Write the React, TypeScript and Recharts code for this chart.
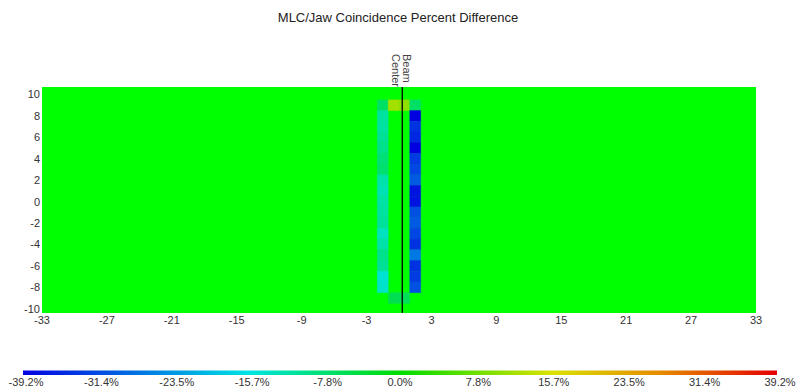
import { ComposedChart, XAxis, YAxis, ReferenceArea, ReferenceLine, Scatter } from "recharts"

// axis ticks
const xTicks = [-33, -27, -21, -15, -9, -3, 3, 9, 15, 21, 27, 33]
const yTicks = [-10, -8, -6, -4, -2, 0, 2, 4, 6, 8, 10]

// heat map rows (centre of each 1 cm row) and columns (left edge of each 1 cm column)
const rowY = [9, 8, 7, 6, 5, 4, 3, 2, 1, 0, -1, -2, -3, -4, -5, -6, -7, -8, -9]
const columnLeft = [-2, -1, 0, 1]

// percent difference per column, top row first (null = no value)
const colA = [-6.9, -11.0, -11.0, -10.3, -9.6, -8.3, -7.6, -11.7, -12.4, -11.4, -11.0, -10.7, -13.1, -11.7, -9.6, -10.3, -14.5, -13.8, null]
const colB = [11.7, null, null, null, null, null, null, null, null, null, null, null, null, null, null, null, null, null, -5.5]
const colC = [10.2, null, null, null, null, null, null, null, null, null, null, null, null, null, null, null, null, null, -6.0]
const colD = [-6.9, -39.2, -34.0, -35.1, -39.2, -33.0, -32.0, -29.9, -37.1, -37.1, -31.0, -29.9, -32.0, -34.0, -26.8, -34.0, -33.0, -31.0, null]
const columns = [colA, colB, colC, colD]

const beamCenter = 0.3
const legendMax = 39.2
const legendLabels = ["-39.2%", "-31.4%", "-23.5%", "-15.7%", "-7.8%", "0.0%", "7.8%", "15.7%", "23.5%", "31.4%", "39.2%"]

const FONT = "'Liberation Sans', Arial, sans-serif"

const colorStops: [number, number[]][] = [
  [-39.2, [0, 0, 225]],
  [-15.7, [0, 228, 228]],
  [0, [0, 220, 0]],
  [15.7, [218, 226, 0]],
  [27, [230, 140, 0]],
  [39.2, [228, 0, 0]],
]

function colorFor(v: number) {
  if (v <= colorStops[0][0]) return `rgb(${colorStops[0][1].join(",")})`
  for (let i = 1; i < colorStops.length; i++) {
    const [v1, c1] = colorStops[i]
    const [v0, c0] = colorStops[i - 1]
    if (v <= v1) {
      const t = (v - v0) / (v1 - v0)
      const c = c0.map((a, k) => Math.round(a + (c1[k] - a) * t))
      return `rgb(${c.join(",")})`
    }
  }
  return `rgb(${colorStops[colorStops.length - 1][1].join(",")})`
}

const renderBeamLabel = (props: any) => {
  const { x, y } = props.viewBox
  return (
    <g fontFamily={FONT} fontSize={11} fill="#444">
      <text transform={`translate(${x + 1},${y - 33}) rotate(90)`}>Beam</text>
      <text transform={`translate(${x - 10},${y - 33}) rotate(90)`}>Center</text>
    </g>
  )
}

export default function App() {
  const cells: any[] = []
  const points: { x: number; y: number; v: number }[] = []
  columns.forEach((col, ci) => {
    col.forEach((v, ri) => {
      if (v === null) return
      const c = colorFor(v)
      points.push({ x: columnLeft[ci] + 0.5, y: rowY[ri], v })
      cells.push(
        <ReferenceArea
          key={`${ci}-${ri}`}
          x1={columnLeft[ci]}
          x2={columnLeft[ci] + 1}
          y1={rowY[ri] - 0.5}
          y2={rowY[ri] + 0.5}
          fill={c}
          fillOpacity={1}
          stroke={c}
          strokeWidth={0.5}
        />
      )
    })
  })

  return (
    <div style={{ position: "absolute", left: 0, top: 0, width: 796, height: 388, background: "#fff", fontFamily: FONT }}>
      <ComposedChart width={796} height={388} data={points} margin={{ top: 87, right: 40, bottom: 55, left: 0 }}>
        <XAxis
          type="number"
          dataKey="x"
          domain={[-33, 33]}
          ticks={xTicks}
          interval={0}
          allowDataOverflow
          axisLine={false}
          tickLine={false}
          tickSize={2}
          tickMargin={1}
          height={20}
          tick={{ fontSize: 11, fill: "#333", fontFamily: FONT }}
        />
        <YAxis
          type="number"
          dataKey="y"
          domain={[-10.4, 10.7]}
          ticks={yTicks}
          interval={0}
          allowDataOverflow
          axisLine={false}
          tickLine={false}
          tickSize={2}
          tickMargin={0}
          width={42}
          tick={{ fontSize: 11, fill: "#333", fontFamily: FONT }}
        />
        <ReferenceArea x1={-33} x2={33} y1={-10.4} y2={10.7} fill="#00ff00" fillOpacity={1} stroke="none" />
        {cells}
        <Scatter data={points} dataKey="y" fill="none" shape={() => <g />} isAnimationActive={false} />
        <ReferenceLine x={beamCenter} stroke="#000" strokeWidth={1.3} label={renderBeamLabel} />
      </ComposedChart>
      <svg width={796} height={388} style={{ position: "absolute", left: 0, top: 0, pointerEvents: "none" }}>
        <defs>
          <linearGradient id="scale" x1="0" x2="1" y1="0" y2="0">
            {colorStops.map(([v, c]) => (
              <stop key={v} offset={(v + legendMax) / (2 * legendMax)} stopColor={`rgb(${c.join(",")})`} />
            ))}
          </linearGradient>
        </defs>
        <text x={398} y={22} textAnchor="middle" fontSize={13} fill="#222" fontFamily={FONT}>
          MLC/Jaw Coincidence Percent Difference
        </text>
        <rect x={23} y={370.5} width={754} height={4.5} fill="url(#scale)" />
        {legendLabels.map((l, i) => (
          <text
            key={l}
            x={23 + (754 * i) / (legendLabels.length - 1) + (i === 5 ? 0 : 3)}
            y={386}
            textAnchor="middle"
            fontSize={11}
            fill="#333"
            fontFamily={FONT}
          >
            {l}
          </text>
        ))}
      </svg>
    </div>
  )
}
